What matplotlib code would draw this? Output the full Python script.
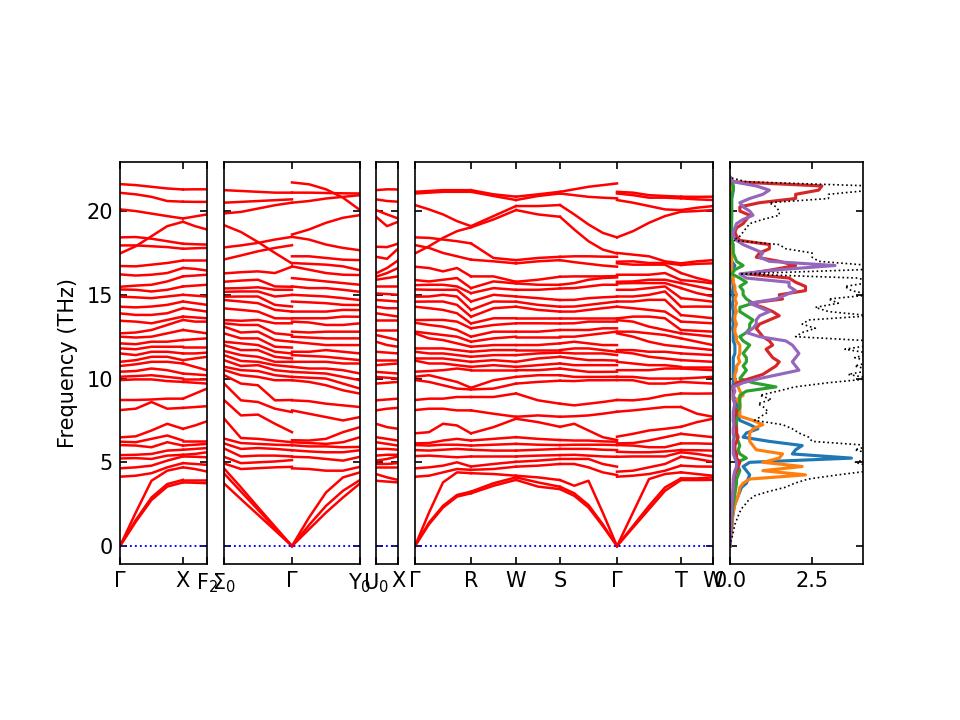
import numpy as np
import matplotlib
matplotlib.use('Agg')
import matplotlib.pyplot as plt

# ---- band data: frequencies (THz) at sample points along each segment ----
# each row = one q-point, each column = one band
gamma_a = [0, 0, 0, 4.14, 4.64, 5.23, 5.43, 6.03, 6.23, 6.49, 8.12, 8.72, 9.91, 10.11, 10.41, 10.75, 11.00, 11.50,
           11.80, 12.10, 12.50, 12.70, 13.45, 13.89, 14.29, 14.89, 15.32, 15.48, 16.22, 16.72, 17.47, 17.95, 18.43,
           20.10, 21.09, 21.61]
point_x = [3.80, 3.95, 4.70, 4.95, 5.35, 5.45, 5.75, 6.00, 6.30, 7.00, 8.25, 8.80, 9.80, 10.00, 10.30, 10.90, 11.10,
           11.50, 11.90, 12.30, 12.90, 13.50, 13.70, 14.20, 14.60, 15.00, 15.50, 16.10, 16.60, 17.05, 17.75, 18.05,
           19.36, 19.56, 20.56, 21.29]
gamma_x = [
    gamma_a,
    [1.45, 1.55, 2.00, 4.20, 4.70, 5.25, 5.45, 6.00, 6.20, 6.55, 8.20, 8.72, 9.95, 10.15, 10.45, 10.85, 11.10, 11.40,
     11.75, 12.05, 12.45, 12.75, 13.40, 13.80, 14.25, 14.85, 15.30, 15.55, 16.15, 16.70, 17.90, 17.95, 18.45, 20.00,
     21.00, 21.55],
    [2.75, 2.90, 3.90, 4.35, 4.80, 5.20, 5.50, 5.90, 6.40, 6.90, 8.60, 8.75, 9.95, 10.20, 10.60, 11.00, 11.30, 11.60,
     11.90, 12.20, 12.50, 12.90, 13.30, 13.80, 14.30, 14.80, 15.20, 15.60, 16.20, 16.80, 18.50, 17.90, 18.35, 19.85,
     20.85, 21.45],
    [3.55, 3.70, 4.50, 4.70, 5.10, 5.40, 5.70, 6.20, 6.60, 7.30, 8.20, 8.80, 9.85, 10.10, 10.50, 11.00, 11.30, 11.60,
     11.90, 12.20, 12.70, 13.20, 13.50, 13.90, 14.40, 14.90, 15.30, 15.80, 16.30, 16.90, 19.10, 17.85, 18.20, 19.70,
     20.60, 21.35],
    [3.80, 3.95, 4.70, 4.95, 5.35, 5.45, 5.75, 6.00, 6.30, 7.00, 8.25, 8.80, 9.80, 10.00, 10.30, 10.90, 11.10,
     11.50, 11.90, 12.30, 12.90, 13.50, 13.70, 14.20, 14.60, 15.00, 15.50, 16.10, 16.60, 17.05, 19.36, 17.75, 18.05,
     19.56, 20.56, 21.29],
]
x_f2 = [
    point_x,
    [3.78, 3.95, 4.60, 4.90, 5.33, 5.50, 5.80, 6.05, 6.30, 7.20, 8.30, 9.10, 9.75, 10.00, 10.25, 10.70, 11.20, 11.50,
     11.90, 12.35, 12.80, 13.40, 13.65, 14.10, 14.50, 14.95, 15.55, 16.15, 16.55, 17.05, 17.78, 18.02, 19.10, 19.68,
     20.55, 21.30],
    [3.75, 3.95, 4.45, 4.85, 5.30, 5.60, 5.85, 6.10, 6.30, 7.45, 8.35, 9.40, 9.70, 10.00, 10.20, 10.50, 11.30, 11.55,
     11.90, 12.40, 12.70, 13.40, 13.60, 14.00, 14.40, 14.90, 15.60, 16.20, 16.45, 17.05, 17.80, 18.00, 18.90, 19.80,
     20.55, 21.30],
]
sigma_gamma = [
    [3.74, 4.34, 4.64, 4.93, 5.33, 5.83, 6.13, 6.42, 7.62, 8.72, 9.71, 10.21, 10.51, 10.71, 11.10, 11.40, 11.65, 12.00,
     12.20, 12.70, 13.10, 13.30, 13.49, 14.19, 14.69, 14.89, 15.18, 15.38, 15.78, 16.28, 17.11, 17.83, 19.16, 19.86,
     20.50, 21.25],
    [2.80, 3.25, 3.50, 4.60, 4.95, 5.35, 5.80, 6.15, 6.45, 7.80, 8.70, 9.70, 10.20, 10.50, 10.75, 11.05, 11.40, 11.70,
     12.10, 12.40, 12.75, 13.20, 13.45, 14.10, 14.60, 14.90, 15.20, 15.40, 15.85, 16.35, 17.35, 17.95, 18.75, 19.95,
     20.55, 21.20],
    [1.87, 2.17, 2.32, 4.65, 5.00, 5.40, 5.85, 6.10, 6.40, 7.85, 8.60, 9.60, 10.10, 10.45, 10.80, 11.00, 11.30, 11.70,
     12.00, 12.40, 12.80, 13.20, 13.50, 14.00, 14.50, 14.90, 15.20, 15.45, 15.90, 16.40, 17.60, 18.10, 18.15, 20.15,
     20.60, 21.15],
    [0.94, 1.08, 1.16, 4.70, 5.05, 5.40, 5.80, 6.05, 6.30, 7.30, 8.20, 8.70, 9.90, 10.20, 10.50, 10.80, 11.00, 11.30,
     11.60, 11.90, 12.30, 12.70, 13.30, 13.60, 14.10, 14.40, 14.90, 15.30, 15.50, 16.30, 17.80, 18.30, 17.50, 20.35,
     20.65, 21.10],
    [0, 0, 0, 4.73, 5.13, 5.35, 5.72, 6.02, 6.20, 6.80, 8.00, 8.72, 9.90, 10.10, 10.40, 10.70, 11.00, 11.20, 11.50,
     11.85, 12.20, 12.60, 13.30, 13.59, 14.00, 14.30, 14.99, 15.30, 15.48, 16.68, 17.96, 18.46, 16.87, 20.50, 20.70,
     21.10],
]
gamma_y = [
    [0, 0, 0, 4.64, 5.33, 5.72, 6.02, 6.20, 6.32, 8.10, 8.70, 9.90, 10.10, 10.40, 10.70, 11.00, 11.40, 11.60, 12.20,
     12.50, 12.80, 13.40, 13.60, 14.00, 14.60, 15.00, 15.50, 16.00, 16.70, 16.90, 17.30, 18.46, 18.60, 20.50, 21.10,
     21.71],
    [1.00, 1.25, 1.70, 4.60, 5.30, 5.65, 5.95, 6.15, 6.30, 7.90, 8.65, 9.80, 10.05, 10.35, 10.60, 11.00, 11.35, 11.60,
     12.10, 12.45, 12.75, 13.35, 13.60, 14.00, 14.55, 14.95, 15.40, 15.90, 16.50, 16.85, 17.30, 18.30, 18.90, 20.60,
     21.10, 21.60],
    [2.00, 2.40, 3.20, 4.50, 5.20, 5.60, 5.95, 6.10, 6.40, 7.70, 8.50, 9.60, 10.00, 10.30, 10.60, 11.00, 11.30, 11.70,
     12.00, 12.40, 12.80, 13.20, 13.60, 14.00, 14.50, 14.90, 15.40, 15.80, 16.30, 16.80, 17.20, 18.00, 19.30, 20.75,
     21.08, 21.30],
    [2.90, 3.30, 4.10, 4.50, 5.10, 5.60, 5.90, 6.20, 6.80, 7.50, 8.40, 9.30, 9.70, 10.10, 10.50, 10.90, 11.20, 11.60,
     12.00, 12.40, 12.80, 13.20, 13.70, 14.10, 14.40, 14.80, 15.30, 15.70, 16.20, 16.70, 17.10, 17.80, 19.60, 20.85,
     21.06, 20.80],
    [3.74, 3.94, 4.40, 4.73, 5.33, 5.72, 5.92, 6.50, 7.10, 7.70, 8.30, 9.10, 9.40, 9.90, 10.30, 10.90, 11.10, 11.50,
     12.00, 12.40, 12.80, 13.30, 13.69, 14.09, 14.39, 14.69, 15.18, 15.60, 16.18, 16.47, 17.07, 17.66, 19.76, 20.95,
     21.05, 20.06],
]
u_x = [
    [3.90, 4.30, 4.70, 4.90, 5.10, 5.40, 5.80, 6.20, 6.50, 7.30, 8.10, 8.70, 9.70, 10.10, 10.40, 10.80, 11.10, 11.60,
     12.20, 12.60, 12.90, 13.50, 13.90, 14.29, 14.69, 15.08, 15.50, 15.90, 16.08, 16.28, 17.27, 17.87, 19.66, 20.06,
     20.70, 21.25],
    [3.85, 4.10, 4.70, 4.90, 5.20, 5.45, 5.80, 6.10, 6.40, 7.10, 8.20, 8.75, 9.75, 10.05, 10.35, 10.85, 11.10, 11.55,
     12.00, 12.45, 12.90, 13.50, 13.80, 14.20, 14.65, 15.05, 15.50, 16.00, 16.30, 16.60, 17.15, 17.85, 19.10, 19.80,
     20.60, 21.30],
    point_x,
]
gamma_b = [0, 0, 0, 4.14, 4.64, 5.37, 5.73, 6.03, 6.13, 6.73, 8.12, 8.72, 9.91, 10.11, 10.41, 11.07, 11.20, 11.60,
           11.80, 12.70, 12.80, 13.33, 13.49, 14.29, 14.59, 14.89, 15.32, 15.58, 15.88, 16.68, 17.47, 17.97, 18.43,
           20.36, 21.05, 21.15]
point_r = [3.15, 3.25, 4.35, 4.55, 4.75, 5.35, 5.75, 6.00, 6.30, 6.73, 8.10, 8.90, 9.35, 9.45, 10.50, 10.70, 11.00,
           11.30, 11.60, 11.90, 12.20, 12.50, 13.00, 13.29, 13.69, 14.10, 14.60, 15.10, 15.40, 16.10, 17.10, 18.07,
           19.03, 19.10, 21.15, 21.25]
point_w = [3.95, 4.10, 4.20, 4.74, 5.03, 5.35, 5.70, 6.10, 6.50, 7.60, 7.72, 9.11, 9.70, 10.10, 10.50, 10.70, 11.00,
           11.40, 11.70, 12.00, 12.50, 12.80, 13.30, 13.60, 14.29, 14.59, 14.90, 15.30, 15.68, 15.78, 16.88, 17.07,
           20.06, 20.30, 20.66, 20.86]
point_s = [3.40, 3.54, 3.94, 4.90, 5.20, 5.43, 5.80, 6.03, 6.33, 7.12, 7.72, 8.50, 9.87, 10.20, 10.60, 10.90, 11.30,
           11.55, 11.70, 12.10, 12.50, 12.90, 13.29, 13.60, 14.00, 14.29, 14.69, 15.38, 15.60, 16.08, 17.07, 17.27,
           19.66, 20.36, 21.05, 21.15]
point_t = [3.94, 4.04, 4.40, 4.80, 5.33, 5.60, 5.73, 6.13, 6.70, 7.12, 8.30, 9.11, 9.80, 10.00, 10.60, 10.70, 11.10,
           11.50, 11.90, 12.40, 12.70, 12.90, 13.40, 13.79, 14.29, 14.80, 15.40, 15.70, 15.88, 16.30, 16.78, 16.88,
           19.96, 20.06, 20.76, 20.86]
gamma_r = [
    gamma_b,
    [1.30, 1.40, 2.00, 4.20, 4.70, 5.40, 5.70, 6.00, 6.15, 6.80, 8.20, 8.80, 9.80, 10.20, 10.45, 10.90, 11.20, 11.50,
     11.80, 12.40, 12.70, 13.20, 13.50, 14.20, 14.60, 14.90, 15.30, 15.60, 15.80, 16.60, 17.90, 17.80, 18.40, 20.10,
     21.10, 21.20],
    [2.30, 2.40, 3.80, 4.40, 4.80, 5.35, 5.75, 6.05, 6.30, 7.30, 8.20, 8.80, 9.60, 10.00, 10.50, 10.90, 11.20, 11.50,
     11.80, 12.30, 12.60, 13.10, 13.50, 14.10, 14.60, 15.00, 15.30, 15.60, 15.90, 16.40, 18.40, 17.50, 18.30, 19.80,
     21.15, 21.25],
    [2.95, 3.05, 4.40, 4.60, 5.00, 5.30, 5.80, 6.05, 6.40, 7.20, 8.10, 8.90, 9.40, 9.80, 10.60, 10.80, 11.10, 11.40,
     11.70, 12.10, 12.50, 12.90, 13.40, 13.90, 14.40, 14.90, 15.30, 15.50, 16.00, 16.60, 18.80, 17.30, 18.20, 19.40,
     21.15, 21.25],
    [3.15, 3.25, 4.35, 4.55, 4.75, 5.35, 5.75, 6.00, 6.30, 6.73, 8.10, 8.90, 9.35, 9.45, 10.50, 10.70, 11.00,
     11.30, 11.60, 11.90, 12.20, 12.50, 13.00, 13.29, 13.69, 14.10, 14.60, 15.10, 15.40, 16.10, 19.03, 17.10, 18.07,
     19.10, 21.15, 21.25],
]
r_w = [
    point_r,
    [3.60, 3.75, 4.30, 4.60, 4.90, 5.35, 5.70, 6.05, 6.40, 7.10, 7.90, 8.90, 9.40, 9.90, 10.50, 10.80, 11.10, 11.40,
     11.70, 12.00, 12.40, 12.80, 13.20, 13.60, 14.20, 14.60, 15.00, 15.40, 15.80, 16.10, 17.00, 17.20, 19.50, 19.70,
     20.90, 21.00],
    point_w,
]
w_s = [
    point_w,
    [3.55, 3.80, 4.10, 4.80, 5.10, 5.40, 5.75, 6.05, 6.40, 7.40, 7.80, 8.70, 9.80, 10.20, 10.50, 10.80, 11.20, 11.50,
     11.70, 12.00, 12.50, 12.80, 13.30, 13.60, 14.10, 14.40, 14.80, 15.30, 15.60, 15.90, 17.00, 17.20, 19.80, 20.30,
     20.90, 21.00],
    point_s,
]
s_gamma = [
    point_s,
    [3.00, 3.15, 3.60, 4.90, 5.20, 5.45, 5.80, 6.05, 6.30, 7.30, 7.75, 8.40, 9.85, 10.10, 10.50, 10.80, 11.20, 11.50,
     11.80, 12.20, 12.50, 12.90, 13.30, 13.60, 14.00, 14.30, 14.70, 15.40, 15.70, 16.10, 16.95, 17.30, 18.90, 19.80,
     20.95, 21.30],
    [2.30, 2.45, 3.90, 4.70, 5.20, 5.40, 5.80, 6.05, 6.30, 6.90, 7.80, 8.50, 9.90, 10.10, 10.40, 10.80, 11.10, 11.50,
     11.80, 12.10, 12.60, 12.90, 13.40, 13.60, 14.10, 14.40, 14.80, 15.50, 15.90, 16.10, 16.85, 17.30, 18.20, 19.20,
     20.85, 21.45],
    [1.20, 1.30, 2.00, 4.40, 4.90, 5.35, 5.75, 6.05, 6.25, 6.50, 7.90, 8.60, 9.90, 10.10, 10.40, 10.80, 11.10, 11.50,
     11.70, 12.00, 12.70, 13.00, 13.40, 13.60, 14.20, 14.50, 14.85, 15.60, 16.00, 16.10, 16.75, 17.28, 17.70, 18.70,
     20.80, 21.55],
    [0, 0, 0, 4.24, 4.74, 5.33, 5.73, 6.03, 6.23, 6.33, 8.02, 8.72, 9.91, 10.11, 10.41, 10.80, 11.07, 11.40, 11.60,
     12.00, 12.80, 13.00, 13.40, 13.60, 14.29, 14.60, 14.89, 15.60, 16.04, 16.12, 16.68, 17.27, 17.47, 18.43, 20.76,
     21.65],
]
gamma_t = [
    [0, 0, 0, 4.14, 4.44, 5.33, 5.63, 6.03, 6.13, 6.53, 8.02, 8.72, 9.91, 10.11, 10.50, 11.00, 11.60, 11.70, 12.70,
     12.80, 13.49, 13.59, 14.29, 14.60, 14.90, 15.30, 15.68, 15.78, 16.20, 16.88, 16.98, 17.50, 18.43, 20.66, 21.05,
     21.15],
    [1.10, 1.20, 2.00, 4.20, 4.50, 5.35, 5.60, 6.00, 6.15, 6.70, 8.10, 8.70, 9.90, 10.10, 10.50, 10.90, 11.50, 11.70,
     12.50, 12.80, 13.40, 13.70, 14.20, 14.60, 14.90, 15.30, 15.70, 15.80, 16.20, 16.80, 17.00, 17.40, 18.80, 20.50,
     20.95, 21.10],
    [2.20, 2.40, 4.00, 4.30, 4.70, 5.35, 5.60, 5.90, 6.30, 6.90, 8.20, 8.80, 9.70, 10.00, 10.50, 10.80, 11.30, 11.60,
     12.20, 12.70, 13.10, 13.70, 14.10, 14.70, 15.00, 15.40, 15.70, 15.90, 16.20, 16.80, 16.90, 17.30, 19.30, 20.30,
     20.80, 20.95],
    [3.30, 3.50, 4.30, 4.50, 4.90, 5.35, 5.65, 5.90, 6.50, 7.00, 8.30, 9.00, 9.70, 10.00, 10.60, 10.80, 11.20, 11.60,
     12.00, 12.60, 12.90, 13.60, 14.00, 14.70, 15.20, 15.50, 15.70, 15.90, 16.30, 16.80, 16.90, 17.00, 19.70, 20.10,
     20.80, 20.90],
    point_t,
]
t_w = [
    point_t,
    [3.94, 4.04, 4.30, 4.75, 5.20, 5.50, 5.72, 6.13, 6.60, 7.40, 7.90, 9.10, 9.75, 10.05, 10.55, 10.70, 11.05, 11.45,
     11.80, 12.20, 12.60, 12.85, 13.35, 13.70, 14.30, 14.70, 15.10, 15.50, 15.80, 16.00, 16.85, 17.00, 20.00, 20.20,
     20.70, 20.85],
    point_w,
]

# panels: list of (segment length, segment data), plus tick labels
panels = [
    ([(0.63, gamma_x), (0.24, x_f2)], ['Γ', 'X', 'F$_2$']),
    ([(0.68, sigma_gamma), (0.68, gamma_y)], ['Σ$_0$', 'Γ', 'Y$_0$']),
    ([(0.22, u_x)], ['U$_0$', 'X']),
    ([(0.56, gamma_r), (0.45, r_w), (0.44, w_s), (0.57, s_gamma), (0.64, gamma_t), (0.32, t_w)],
     ['Γ', 'R', 'W', 'S', 'Γ', 'T', 'W']),
]

# ---- DOS data, sampled every 0.25 THz from 0 to 22 (one line per THz) ----
dos_freq = np.arange(0, 22.01, 0.25)
dos_total = [0, 0.02, 0.06, 0.09,
             0.12, 0.14, 0.19, 0.24,
             0.29, 0.36, 0.47, 0.57,
             0.75, 1.16, 1.67, 1.97,
             2.38, 3.29, 4.3, 4.3,
             3.8, 4.3, 4.3, 3.8,
             4.3, 2.5, 2.4, 2.1,
             1.9, 1.6, 0.75, 0.95,
             1.16, 1.06, 0.85, 1.26,
             0.91, 1.46, 1.97, 2.99,
             4.3, 3.6, 4.3, 3.8,
             4.3, 3.8, 4.3, 3.5,
             4.3, 4.3, 2.0, 2.2,
             2.6, 2.2, 2.4, 4.3,
             3.0, 2.6, 3.3, 3.0,
             4.3, 3.7, 3.5, 4.3,
             3.9, 0.3, 4.0, 4.3,
             2.7, 2.5, 2.5, 1.7,
             1.5, 0.1, 0.3, 0.4,
             0.5, 0.6, 1.0, 1.5,
             1.5, 1.4, 1.2, 3.0,
             3.0, 4.3, 4.3, 0.5,
             0]
dos_blue = [0, 0.01, 0.02, 0.03,
            0.05, 0.06, 0.07, 0.08,
            0.1, 0.12, 0.15, 0.2,
            0.25, 0.3, 0.35, 0.5,
            0.55, 0.6, 0.5, 0.4,
            0.6, 3.7, 1.9, 2.0,
            2.2, 1.2, 0.4, 0.5,
            0.85, 0.6, 0.3, 0.25,
            0.2, 0.25, 0.2, 0.15,
            0.1, 0.1, 0.08, 0.1,
            0.1, 0.1, 0.1, 0.1,
            0.1, 0.1, 0.15, 0.15,
            0.15, 0.1, 0.1, 0.1,
            0.08, 0.1, 0.08, 0.1,
            0.1, 0.08, 0.08, 0.1,
            0.08, 0.08, 0.1, 0.08,
            0.08, 0.02, 0.1, 0.15,
            0.05, 0.05, 0.05, 0.05,
            0.05, 0.02, 0.03, 0.03,
            0.03, 0.03, 0.05, 0.05,
            0.05, 0.05, 0.05, 0.05,
            0.08, 0.1, 0.1, 0.02,
            0]
dos_orange = [0, 0.01, 0.02, 0.03,
              0.05, 0.06, 0.07, 0.08,
              0.1, 0.12, 0.15, 0.2,
              0.25, 0.28, 0.3, 0.4,
              0.6, 2.3, 1.0, 2.2,
              1.0, 1.5, 1.6, 0.8,
              0.7, 0.6, 0.6, 0.6,
              0.7, 1.0, 0.7, 0.3,
              0.3, 0.3, 0.3, 0.2,
              0.4, 0.3, 0.25, 0.2,
              0.15, 0.15, 0.2, 0.2,
              0.3, 0.25, 0.3, 0.3,
              0.3, 0.2, 0.2, 0.15,
              0.15, 0.2, 0.15, 0.15,
              0.2, 0.15, 0.2, 0.15,
              0.2, 0.15, 0.15, 0.1,
              0.1, 0.02, 0.05, 0.05,
              0.05, 0.05, 0.05, 0.05,
              0.05, 0.02, 0.03, 0.03,
              0.03, 0.03, 0.03, 0.03,
              0.03, 0.03, 0.03, 0.03,
              0.05, 0.05, 0.05, 0.02,
              0]
dos_green = [0, 0.01, 0.01, 0.02,
             0.03, 0.04, 0.05, 0.06,
             0.07, 0.08, 0.1, 0.12,
             0.14, 0.16, 0.18, 0.2,
             0.2, 0.25, 0.3, 0.25,
             0.2, 0.5, 0.3, 0.25,
             0.3, 0.25, 0.2, 0.2,
             0.2, 0.2, 0.2, 0.2,
             0.2, 0.3, 0.3, 0.3,
             0.3, 0.5, 1.4, 0.7,
             0.3, 0.4, 0.5, 0.4,
             0.5, 0.5, 0.4, 0.5,
             0.6, 0.4, 0.3, 0.5,
             0.6, 0.6, 0.7, 0.5,
             0.3, 0.3, 0.7, 0.5,
             0.4, 0.4, 0.3, 0.5,
             0.3, 0.05, 0.15, 0.4,
             0.2, 0.15, 0.1, 0.1,
             0.1, 0.05, 0.05, 0.05,
             0.05, 0.05, 0.05, 0.05,
             0.05, 0.05, 0.05, 0.05,
             0.05, 0.1, 0.1, 0.05,
             0]
dos_red = [0, 0.01, 0.01, 0.02,
           0.02, 0.03, 0.03, 0.04,
           0.05, 0.05, 0.06, 0.07,
           0.08, 0.09, 0.1, 0.1,
           0.12, 0.15, 0.2, 0.25,
           0.3, 0.2, 0.2, 0.15,
           0.15, 0.2, 0.25, 0.2,
           0.2, 0.15, 0.1, 0.15,
           0.2, 0.15, 0.15, 0.1,
           0.1, 0.1, 0.1, 0.2,
           0.6, 1.0, 1.2, 1.4,
           1.5, 1.3, 1.2, 1.1,
           1.3, 1.2, 1.0, 0.9,
           0.8, 0.9, 1.2, 1.5,
           1.3, 1.0, 0.6, 1.6,
           1.5, 2.3, 2.3, 2.0,
           1.8, 0.5, 1.3, 2.0,
           1.5, 0.8, 0.9, 1.2,
           1.2, 0.3, 0.2, 0.15,
           0.2, 0.4, 0.5, 0.6,
           0.3, 0.3, 0.9, 2.0,
           2.0, 2.7, 2.8, 0.1,
           0]
dos_purple = [0, 0.01, 0.01, 0.02,
              0.02, 0.03, 0.03, 0.04,
              0.05, 0.05, 0.06, 0.07,
              0.08, 0.09, 0.1, 0.1,
              0.1, 0.12, 0.15, 0.2,
              0.2, 0.15, 0.1, 0.1,
              0.1, 0.1, 0.12, 0.1,
              0.1, 0.12, 0.1, 0.1,
              0.1, 0.12, 0.15, 0.1,
              0.1, 0.15, 0.1, 0.4,
              0.9, 1.5, 2.1, 2.0,
              1.9, 2.0, 2.1, 2.0,
              1.9, 1.7, 0.9, 0.5,
              0.7, 0.8, 0.8, 0.9,
              1.2, 0.9, 0.6, 1.4,
              1.7, 2.0, 1.8, 1.8,
              0.5, 0.3, 1.5, 3.2,
              1.2, 0.9, 1.0, 0.7,
              0.4, 0.2, 0.1, 0.1,
              0.15, 0.2, 0.4, 0.7,
              0.6, 0.4, 0.3, 0.6,
              1.0, 1.2, 0.8, 0.1,
              0]
partials = [(dos_blue, 'tab:blue'), (dos_orange, 'tab:orange'), (dos_green, 'tab:green'),
            (dos_red, 'tab:red'), (dos_purple, 'tab:purple')]

ylim = (-1.07, 22.93)

fig = plt.figure(figsize=(6.4, 4.8), dpi=150)
bottom, height = 0.2167, 0.5583
lefts = [0.125, 0.2333, 0.3917, 0.4323]
widths = [0.0906, 0.1417, 0.0229, 0.3104]

for i, (segments, labels) in enumerate(panels):
    ax = fig.add_axes([lefts[i], bottom, widths[i], height])
    x0 = 0.0
    ticks = [0.0]
    for length, rows in segments:
        arr = np.array(rows)
        xs = x0 + np.linspace(0, 1, arr.shape[0]) * length
        ax.plot(xs, arr, color='r', lw=1.2)
        x0 += length
        ticks.append(x0)
    ax.plot([0, x0], [0, 0], color='b', ls=':', lw=0.9)
    ax.set_xlim(0, x0)
    ax.set_ylim(*ylim)
    ax.set_xticks(ticks)
    ax.set_xticklabels(labels)
    ax.set_yticks([0, 5, 10, 15, 20])
    ax.tick_params(direction='in', top=True, right=True)
    if i == 0:
        ax.set_ylabel('Frequency (THz)')
    else:
        ax.set_yticklabels([])

# DOS panel
axd = fig.add_axes([0.7604, bottom, 0.1385, height])
for vals, col in partials:
    axd.plot(vals, dos_freq, color=col, lw=1.5)
axd.plot(dos_total, dos_freq, color='k', ls=':', lw=0.8)
axd.set_xlim(0, 4.05)
axd.set_ylim(*ylim)
axd.set_xticks([0.0, 2.5])
axd.set_xticklabels(['0.0', '2.5'])
axd.set_yticks([0, 5, 10, 15, 20])
axd.set_yticklabels([])
axd.tick_params(direction='in', top=True, right=True)

fig.savefig('out.png', dpi=150)
